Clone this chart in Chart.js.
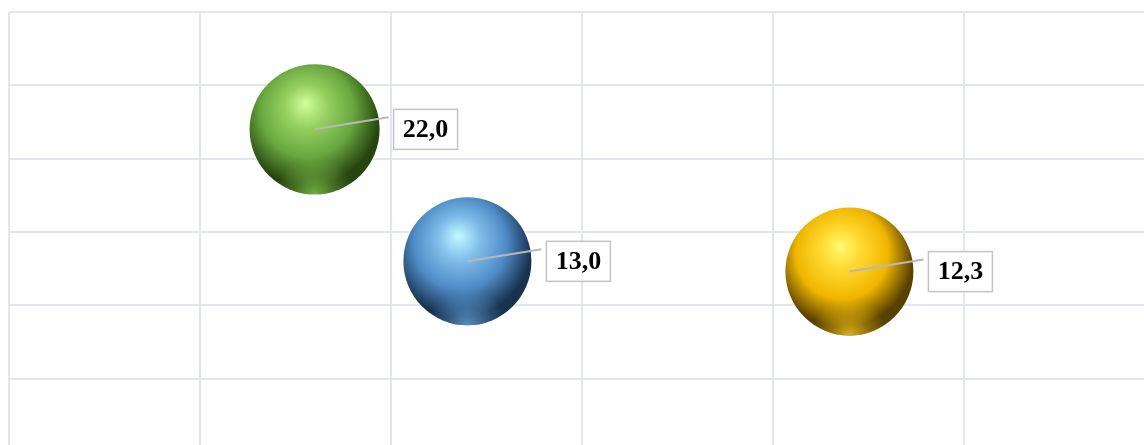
<!DOCTYPE html>
<html>
<head>
<meta charset="utf-8">
<script src="https://cdn.jsdelivr.net/npm/chart.js@4"></script>
<style>
  html, body { margin: 0; padding: 0; background: #fff; overflow: hidden; }
  #wrap { width: 1144px; height: 445px; overflow: hidden; position: relative; }
  canvas { position: absolute; left: 0; top: 0; }
</style>
</head>
<body>
<div id="wrap"><canvas id="chart" width="1160" height="462"></canvas></div>
<script>
// bubble data
const xValues = [1.6, 2.4, 4.4];
const yValues = [22.0, 13.0, 12.3];
const sizes = [65, 64, 64];
const labels = ['22,0', '13,0', '12,3'];

// sphere shading: highlight, light, mid, dark, bottom rim rgb
const shades = [
  ['#d0ff9a', '#94cf60', '#68a63e', '#26440e', '130,200,80'],
  ['#c0faff', '#80bdea', '#4f8cc6', '#183250', '100,165,220'],
  ['#fffa70', '#ffd72e', '#f0b600', '#574000', '250,200,30']
];

function sphereFill(ctx) {
  const chart = ctx.chart;
  if (ctx.type !== 'data' || !chart.chartArea) return shades[ctx.dataIndex][2];
  const i = ctx.dataIndex;
  const cx = chart.scales.x.getPixelForValue(ctx.raw.x);
  const cy = chart.scales.y.getPixelForValue(ctx.raw.y);
  const r = ctx.raw.r;
  const s = shades[i];
  const g = chart.ctx.createRadialGradient(cx - 0.14 * r, cy - 0.4 * r, 0, cx - 0.1 * r, cy - 0.22 * r, r * 1.2);
  g.addColorStop(0, s[0]);
  g.addColorStop(0.28, s[1]);
  g.addColorStop(0.6, s[2]);
  g.addColorStop(0.92, s[3]);
  g.addColorStop(1, s[3]);
  return g;
}

// bottom reflection, leader lines and boxed value labels
const labelPlugin = {
  id: 'boxLabels',
  afterDatasetsDraw(chart) {
    const c = chart.ctx;
    const meta = chart.getDatasetMeta(0);
    meta.data.forEach((el, i) => {
      const cx = el.x, cy = el.y;
      const r = sizes[i];
      const rgb = shades[i][4];
      const rim = c.createRadialGradient(cx, cy + 1.0 * r, 0, cx, cy + 1.0 * r, 0.6 * r);
      rim.addColorStop(0, 'rgba(' + rgb + ',0.8)');
      rim.addColorStop(0.5, 'rgba(' + rgb + ',0.35)');
      rim.addColorStop(1, 'rgba(' + rgb + ',0)');
      c.save();
      c.beginPath();
      c.arc(cx, cy, r, 0, Math.PI * 2);
      c.clip();
      c.fillStyle = rim;
      c.fillRect(cx - r, cy - r, 2 * r, 2 * r);
      c.restore();

      c.save();
      c.strokeStyle = '#b8b8b8';
      c.lineWidth = 2;
      c.beginPath();
      c.moveTo(cx, cy);
      c.lineTo(cx + 74, cy - 12);
      c.stroke();
      const bx = cx + 79, by = cy - 20, bw = 64, bh = 40;
      c.fillStyle = '#fff';
      c.fillRect(bx, by, bw, bh);
      c.strokeStyle = '#c4c4c4';
      c.lineWidth = 1.5;
      c.strokeRect(bx, by, bw, bh);
      c.fillStyle = '#000';
      c.font = 'bold 26px "Liberation Serif", "Times New Roman", serif';
      c.textAlign = 'center';
      c.textBaseline = 'middle';
      c.fillText(labels[i], bx + bw / 2, by + bh / 2 + 1);
      c.restore();
    });
  }
};

const points = xValues.map((x, i) => ({ x, y: yValues[i], r: sizes[i] }));

new Chart(document.getElementById('chart'), {
  type: 'bubble',
  data: {
    datasets: [{
      data: points,
      backgroundColor: sphereFill,
      borderWidth: 0,
      hoverBorderWidth: 0
    }]
  },
  options: {
    responsive: false,
    animation: false,
    layout: { autoPadding: false, padding: { left: 9, top: 12, right: 5, bottom: 10 } },
    plugins: { legend: { display: false }, tooltip: { enabled: false } },
    scales: {
      x: {
        type: 'linear', min: 0, max: 6,
        ticks: { display: false, stepSize: 1 },
        grid: { color: '#e3e6ec', lineWidth: 2, drawTicks: false },
        border: { display: false }
      },
      y: {
        type: 'linear', min: 0, max: 30,
        ticks: { display: false, stepSize: 5 },
        grid: { color: '#e3e6ec', lineWidth: 2, drawTicks: false },
        border: { display: false }
      }
    }
  },
  plugins: [labelPlugin]
});
</script>
</body>
</html>
